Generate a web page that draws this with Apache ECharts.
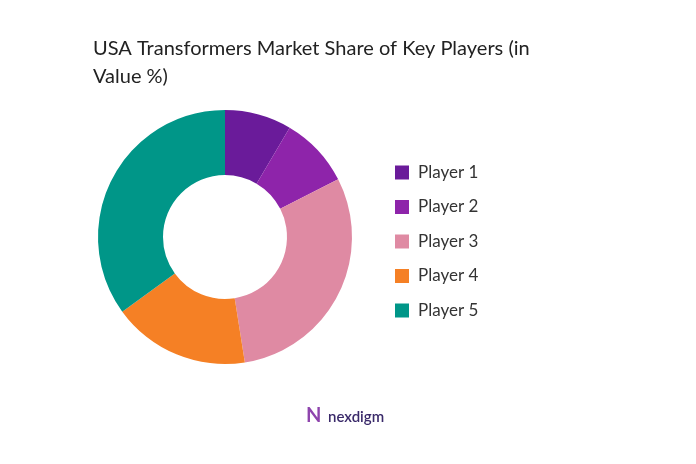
<!DOCTYPE html>
<html>
<head>
<meta charset="utf-8">
<script src="https://cdn.jsdelivr.net/npm/echarts@6/dist/echarts.min.js"></script>
<style>html,body{margin:0;background:#fff}#chart{width:696px;height:464px}</style>
</head>
<body>
<div id="chart"></div>
<script>
var players = ['Player 1', 'Player 2', 'Player 3', 'Player 4', 'Player 5'];
var shares = [8.5, 9, 30, 17.5, 35];
var colorList = ['#6a1b9a', '#8e24aa', '#df8aa3', '#f58025', '#009688'];

var data = [];
for (var i = 0; i < players.length; i++) {
    data.push({name: players[i], value: shares[i]});
}

var option = {
    color: colorList,
    title: {
        text: 'USA Transformers Market Share of Key Players (in\nValue %)',
        left: 88,
        top: 30,
        textStyle: {fontFamily: 'Lato', fontSize: 20, fontWeight: 'normal', color: '#222', lineHeight: 28}
    },
    legend: {
        orient: 'vertical',
        left: 390,
        top: 159,
        itemWidth: 14,
        itemHeight: 14,
        itemGap: 17.5,
        icon: 'rect',
        textStyle: {fontFamily: 'Lato', fontSize: 17, color: '#333', padding: [0, 0, 0, 4]},
        data: players
    },
    graphic: [{
        type: 'text',
        left: 328,
        top: 410,
        style: {text: 'nexdigm', font: '600 15px Lato', fill: '#3a2a6a'}
    }, {
        type: 'text',
        left: 306,
        top: 406,
        style: {text: 'N', font: 'bold 20px Lato', fill: '#8e44ad'}
    }],
    series: [{
        type: 'pie',
        center: [225, 237],
        radius: [62, 127],
        startAngle: 90,
        label: {show: false},
        labelLine: {show: false},
        data: data
    }]
};
var myChart = echarts.init(document.getElementById('chart'));
myChart.setOption(option);
</script>
</body>
</html>
